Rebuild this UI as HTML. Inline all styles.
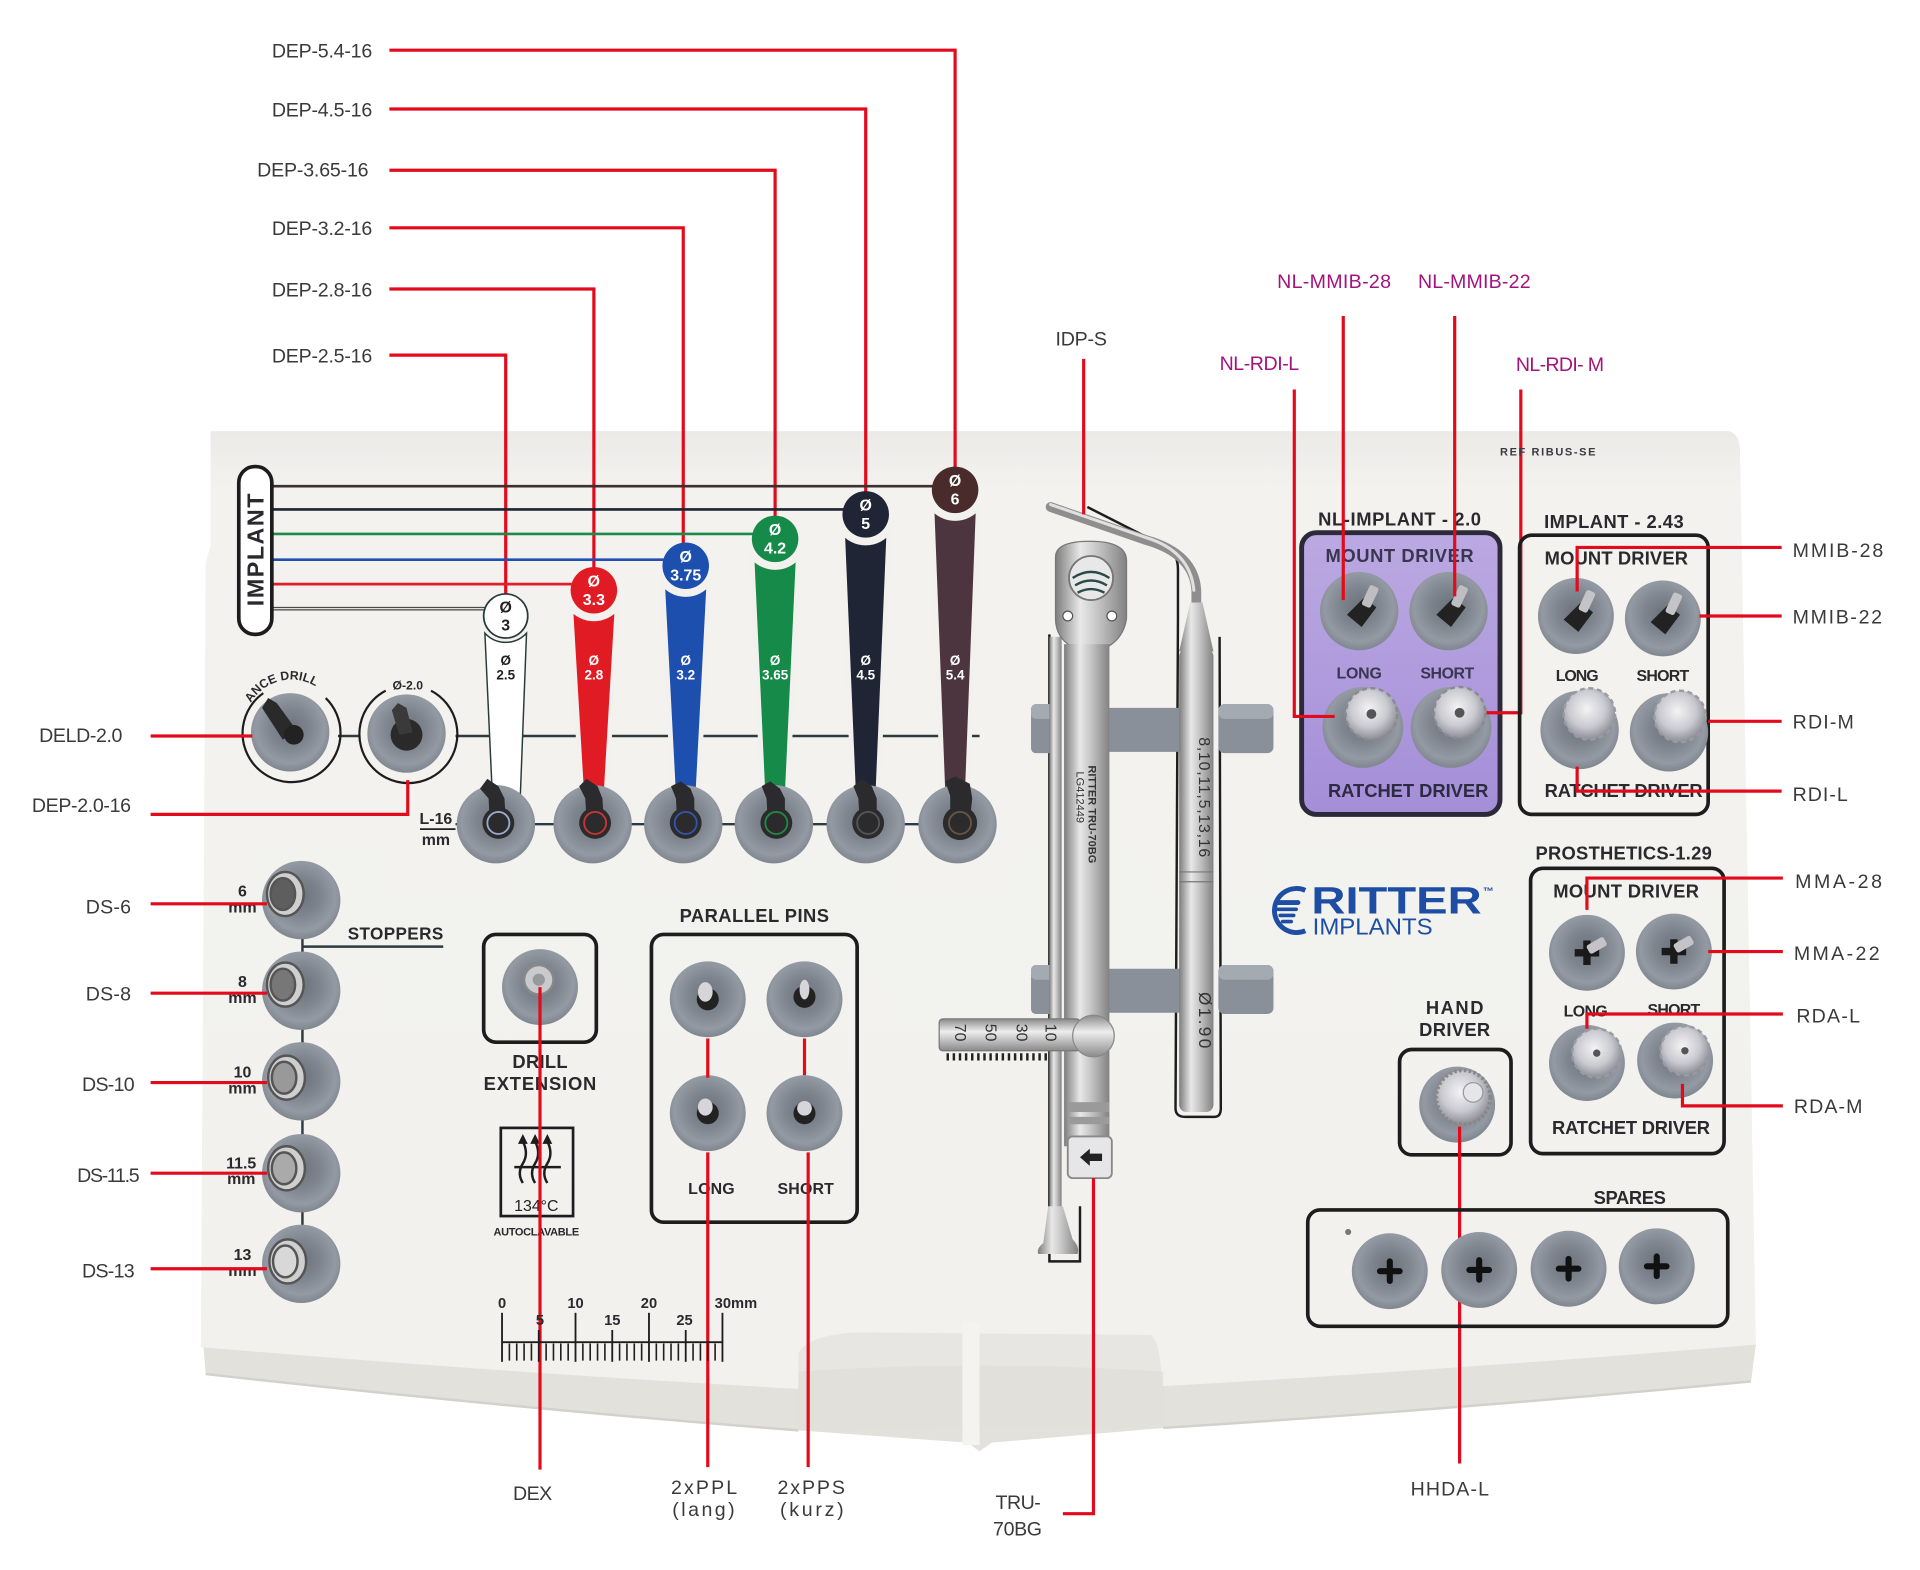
<!DOCTYPE html>
<html><head><meta charset="utf-8">
<style>
html,body{margin:0;padding:0;background:#fff;}
svg{display:block;}
.lb{font-family:"Liberation Sans",sans-serif;font-size:16px;fill:#3a3a3a;}
.mg{font-family:"Liberation Sans",sans-serif;font-size:16px;fill:#a3137e;}
.bt{font-family:"Liberation Sans",sans-serif;font-weight:bold;fill:#2a2a2e;}
.wt{font-family:"Liberation Sans",sans-serif;font-weight:bold;fill:#fff;text-anchor:middle;}
.r{stroke:#e30a1c;stroke-width:2.6;fill:none;}
</style></head>
<body>
<svg width="1920" height="1570" viewBox="0 0 1568 1282" preserveAspectRatio="none" xmlns="http://www.w3.org/2000/svg">
<defs>
<radialGradient id="hg" cx="50%" cy="45%" r="55%">
<stop offset="0" stop-color="#6c727b"/><stop offset="0.45" stop-color="#7f858e"/><stop offset="0.8" stop-color="#949aa3"/><stop offset="1" stop-color="#80868f"/>
</radialGradient>
<linearGradient id="met" x1="0" x2="1" y1="0" y2="0">
<stop offset="0" stop-color="#7d7d7d"/><stop offset="0.35" stop-color="#e8e8e8"/><stop offset="0.6" stop-color="#c4c4c4"/><stop offset="1" stop-color="#828282"/>
</linearGradient>
<linearGradient id="metv" x1="0" x2="0" y1="0" y2="1">
<stop offset="0" stop-color="#8a8a8a"/><stop offset="0.4" stop-color="#eeeeee"/><stop offset="1" stop-color="#8a8a8a"/>
</linearGradient>
<radialGradient id="knob" cx="45%" cy="40%" r="60%">
<stop offset="0" stop-color="#f4f4f6"/><stop offset="0.6" stop-color="#c9c9d0"/><stop offset="1" stop-color="#8d8d96"/>
</radialGradient>
<linearGradient id="purp" x1="0" x2="0" y1="0" y2="1">
<stop offset="0" stop-color="#bba9e2"/><stop offset="1" stop-color="#a48ed8"/>
</linearGradient>
<linearGradient id="tray" x1="0" x2="0" y1="0" y2="1">
<stop offset="0" stop-color="#ebeae7"/><stop offset="0.06" stop-color="#f3f2ef"/><stop offset="1" stop-color="#f2f1ee"/>
</linearGradient>
</defs>

<rect width="1568" height="1282" fill="#fff"/>

<!-- TRAY -->
<path d="M166,1098 L168,1122 Q420,1150 652,1168 L790,1178 L800,1185 L810,1178 L950,1166 Q1200,1150 1430,1128 L1434,1098 Z" fill="#e2e1dc"/>
<path d="M172,352 L1412,352 Q1420,354 1421,366 L1434,1098 Q1190,1118 950,1132 L650,1134 Q400,1120 164,1100 L168,460 L172,445 Z" fill="url(#tray)"/>
<path d="M652,1168 L652,1105 Q660,1090 700,1088 L940,1090 Q950,1096 950,1166 Z" fill="#e7e6e2"/>
<path d="M652,1168 L652,1120 Q800,1110 950,1120 L950,1166 Z" fill="#dedcd7" opacity="0.6"/>
<rect x="786" y="1080" width="14" height="100" fill="#f4f3f0"/>
<path d="M168,1122 Q420,1150 652,1168" stroke="#d2d1cb" stroke-width="2" fill="none"/>
<path d="M950,1166 Q1200,1150 1430,1128" stroke="#d2d1cb" stroke-width="2" fill="none"/>

<!-- LEFT TOP LABELS -->
<text class="lb" x="304" y="47" text-anchor="end" textLength="82">DEP-5.4-16</text>
<text class="lb" x="304" y="95" text-anchor="end" textLength="82">DEP-4.5-16</text>
<text class="lb" x="301" y="144" text-anchor="end" textLength="91">DEP-3.65-16</text>
<text class="lb" x="304" y="192" text-anchor="end" textLength="82">DEP-3.2-16</text>
<text class="lb" x="304" y="242" text-anchor="end" textLength="82">DEP-2.8-16</text>
<text class="lb" x="304" y="296" text-anchor="end" textLength="82">DEP-2.5-16</text>
<path class="r" d="M318,41 H780 V385"/>
<path class="r" d="M318,89 H707 V408"/>
<path class="r" d="M318,139 H633 V425"/>
<path class="r" d="M318,186 H558 V446"/>
<path class="r" d="M318,236 H485 V466"/>
<path class="r" d="M318,290 H413 V487"/>

<!-- IMPLANT pill and lines -->
<line x1="221" y1="397" x2="770" y2="397" stroke="#3b2f2f" stroke-width="2.2"/>
<line x1="221" y1="416" x2="697" y2="416" stroke="#1d2433" stroke-width="2.2"/>
<line x1="221" y1="436" x2="622" y2="436" stroke="#1e8a4a" stroke-width="2.2"/>
<line x1="221" y1="457" x2="548" y2="457" stroke="#1f50b2" stroke-width="2.2"/>
<line x1="221" y1="477" x2="474" y2="477" stroke="#e31d2b" stroke-width="2.2"/>
<line x1="221" y1="497" x2="402" y2="497" stroke="#4a4a4a" stroke-width="3"/>
<line x1="221" y1="497" x2="402" y2="497" stroke="#ddd" stroke-width="1"/>
<rect x="195" y="381" width="27" height="137" rx="13" fill="#fff" stroke="#1c1c1c" stroke-width="3"/>
<text class="bt" x="0" y="0" font-size="19" transform="translate(215,449) rotate(-90)" text-anchor="middle" textLength="92">IMPLANT</text>

<!-- mid horizontal line and L-16 line -->
<line x1="276" y1="601" x2="294" y2="601" stroke="#2d3a40" stroke-width="2"/>
<line x1="372" y1="601" x2="800" y2="601" stroke="#2d3a40" stroke-width="2"/>
<line x1="372" y1="673" x2="810" y2="673" stroke="#2d3a40" stroke-width="2"/>

<!-- bands -->
<g stroke="#f2f1ee" stroke-width="4">
<path d="M396,517 A23 23 0 0 0 430,517 L425,648 L402,648 Z" fill="#fff" stroke="#2a3a3a" stroke-width="1.2"/>
<path d="M466,496 A24 24 0 0 0 504,496 L495,648 L475,648 Z" fill="#e01b24"/>
<path d="M541,476 A24 24 0 0 0 579,476 L570,648 L550,648 Z" fill="#1d4faf"/>
<path d="M614,454 A24 24 0 0 0 652,454 L643,648 L623,648 Z" fill="#168a48"/>
<path d="M688,434 A24 24 0 0 0 726,434 L717,648 L697,648 Z" fill="#1f2535"/>
<path d="M761,414 A24 24 0 0 0 799,414 L790,648 L770,648 Z" fill="#4d3540"/>
</g>
<!-- circles -->
<circle cx="413" cy="503" r="18" fill="#fff" stroke="#2a3a3a" stroke-width="1.4"/>
<circle cx="485" cy="482" r="19" fill="#e01b24"/>
<circle cx="560" cy="462" r="19" fill="#1d4faf"/>
<circle cx="633" cy="440" r="19" fill="#168a48"/>
<circle cx="707" cy="420" r="19" fill="#1f2535"/>
<circle cx="780" cy="400" r="19" fill="#4a2b2b"/>
<g font-size="13">
<text class="wt" x="413" y="500" style="fill:#222">Ø</text><text class="wt" x="413" y="515" style="fill:#222">3</text>
<text class="wt" x="485" y="479">Ø</text><text class="wt" x="485" y="494">3.3</text>
<text class="wt" x="560" y="459">Ø</text><text class="wt" x="560" y="474">3.75</text>
<text class="wt" x="633" y="437">Ø</text><text class="wt" x="633" y="452">4.2</text>
<text class="wt" x="707" y="417">Ø</text><text class="wt" x="707" y="432">5</text>
<text class="wt" x="780" y="397">Ø</text><text class="wt" x="780" y="412">6</text>
</g>
<g font-size="11">
<text class="wt" x="413" y="543" style="fill:#222">Ø</text><text class="wt" x="413" y="555" style="fill:#222">2.5</text>
<text class="wt" x="485" y="543">Ø</text><text class="wt" x="485" y="555">2.8</text>
<text class="wt" x="560" y="543">Ø</text><text class="wt" x="560" y="555">3.2</text>
<text class="wt" x="633" y="543">Ø</text><text class="wt" x="633" y="555">3.65</text>
<text class="wt" x="707" y="543">Ø</text><text class="wt" x="707" y="555">4.5</text>
<text class="wt" x="780" y="543">Ø</text><text class="wt" x="780" y="555">5.4</text>
</g>

<!-- L-16 holders -->
<g>
<circle cx="405" cy="673" r="32" fill="url(#hg)"/>
<circle cx="484" cy="673" r="32" fill="url(#hg)"/>
<circle cx="558" cy="673" r="32" fill="url(#hg)"/>
<circle cx="632" cy="673" r="32" fill="url(#hg)"/>
<circle cx="707" cy="673" r="32" fill="url(#hg)"/>
<circle cx="782" cy="673" r="32" fill="url(#hg)"/>
</g>
<g fill="#2b2b2d">
<circle cx="407" cy="672" r="13"/><circle cx="486" cy="672" r="13"/><circle cx="560" cy="672" r="13"/><circle cx="634" cy="672" r="13"/><circle cx="709" cy="672" r="13"/><circle cx="784" cy="672" r="14"/>
<path d="M400,670 L399,652 L392,644 L398,636 L407,642 L412,652 L413,670 Z"/>
<path d="M479,670 L478,652 L473,642 L479,636 L488,642 L492,652 L493,670 Z"/>
<path d="M553,670 L552,652 L548,642 L556,638 L564,644 L567,652 L567,670 Z"/>
<path d="M627,670 L626,652 L622,642 L629,638 L637,644 L641,652 L641,670 Z"/>
<path d="M702,670 L701,652 L697,642 L704,636 L712,642 L716,652 L716,670 Z"/>
<path d="M776,670 L776,650 L772,638 L780,634 L792,640 L794,652 L792,670 Z"/>
</g>
<g fill="none" stroke-width="1.5">
<circle cx="407" cy="672" r="9" stroke="#9ac"/><circle cx="486" cy="672" r="9" stroke="#c33"/><circle cx="560" cy="672" r="9" stroke="#35a"/><circle cx="634" cy="672" r="9" stroke="#284"/><circle cx="709" cy="672" r="9" stroke="#555"/><circle cx="784" cy="672" r="9" stroke="#654"/>
</g>
<text class="bt" x="356" y="673" font-size="13" text-anchor="middle">L-16</text>
<line x1="343" y1="677" x2="372" y2="677" stroke="#222" stroke-width="1.4"/>
<text class="bt" x="356" y="690" font-size="13" text-anchor="middle">mm</text>

<!-- Left holders DELD & DEP-2.0 -->
<path d="M215,566 A40 40 0 1 0 266,570" fill="none" stroke="#1d1d1d" stroke-width="1.8"/>
<path id="arcA" d="M205,574 A38 38 0 0 1 272,576" fill="none"/>
<text class="bt" font-size="10"><textPath href="#arcA">ANCE DRILL</textPath></text>
<circle cx="237" cy="598" r="32" fill="url(#hg)"/>
<path d="M231,604 L214,578 L219,570 L226,574 L242,596 Z" fill="#2a2a2a"/>
<circle cx="240" cy="600" r="8" fill="#222"/>
<path d="M315,564 A40 40 0 1 0 352,564" fill="none" stroke="#1d1d1d" stroke-width="1.8"/>
<text class="bt" x="333" y="563" font-size="10" text-anchor="middle">Ø-2.0</text>
<circle cx="332" cy="599" r="32" fill="url(#hg)"/>
<circle cx="332" cy="600" r="13" fill="#2a2a2a"/>
<path d="M326,600 L320,580 L325,574 L332,578 L337,598 Z" fill="#3a3a3a"/>
<text class="lb" x="32" y="606" textLength="68">DELD-2.0</text>
<text class="lb" x="26" y="663" textLength="81">DEP-2.0-16</text>
<path class="r" d="M123,601 H206"/>
<path class="r" d="M123,665 H333 V637"/>

<!-- STOPPERS -->
<line x1="247" y1="760" x2="247" y2="1010" stroke="#2d3a40" stroke-width="2"/>
<line x1="247" y1="773" x2="362" y2="773" stroke="#2d3a40" stroke-width="2"/>
<text class="bt" x="284" y="767" font-size="14" textLength="78">STOPPERS</text>
<g>
<circle cx="246" cy="735" r="32" fill="url(#hg)"/>
<circle cx="246" cy="809" r="32" fill="url(#hg)"/>
<circle cx="246" cy="883" r="32" fill="url(#hg)"/>
<circle cx="246" cy="958" r="32" fill="url(#hg)"/>
<circle cx="246" cy="1032" r="32" fill="url(#hg)"/>
</g>
<g stroke="#555" stroke-width="2">
<ellipse cx="233" cy="730" rx="15" ry="18" fill="#cfcfcf"/><ellipse cx="231" cy="730" rx="10" ry="13" fill="#5e5e5e"/>
<ellipse cx="233" cy="804" rx="15" ry="18" fill="#cfcfcf"/><ellipse cx="231" cy="804" rx="10" ry="13" fill="#777"/>
<ellipse cx="234" cy="880" rx="15" ry="18" fill="#cfcfcf"/><ellipse cx="232" cy="880" rx="10" ry="13" fill="#999"/>
<ellipse cx="234" cy="954" rx="15" ry="18" fill="#cfcfcf"/><ellipse cx="232" cy="954" rx="10" ry="13" fill="#aaa"/>
<ellipse cx="235" cy="1030" rx="15" ry="18" fill="#cfcfcf"/><ellipse cx="233" cy="1030" rx="10" ry="13" fill="#d8d8d8"/>
</g>
<g font-size="13" text-anchor="middle">
<text class="bt" x="198" y="732">6</text><text class="bt" x="198" y="745">mm</text>
<text class="bt" x="198" y="806">8</text><text class="bt" x="198" y="819">mm</text>
<text class="bt" x="198" y="880">10</text><text class="bt" x="198" y="893">mm</text>
<text class="bt" x="197" y="954">11.5</text><text class="bt" x="197" y="967">mm</text>
<text class="bt" x="198" y="1029">13</text><text class="bt" x="198" y="1042">mm</text>
</g>
<text class="lb" x="70" y="746" textLength="37">DS-6</text>
<text class="lb" x="70" y="817" textLength="37">DS-8</text>
<text class="lb" x="67" y="891" textLength="43">DS-10</text>
<text class="lb" x="63" y="965" textLength="51">DS-11.5</text>
<text class="lb" x="67" y="1043" textLength="43">DS-13</text>
<path class="r" d="M123,738 H218"/>
<path class="r" d="M123,811 H218"/>
<path class="r" d="M123,884 H218"/>
<path class="r" d="M123,958 H218"/>
<path class="r" d="M123,1036 H218"/>

<!-- DRILL EXTENSION -->
<rect x="395" y="763" width="92" height="88" rx="10" fill="none" stroke="#1d1d1d" stroke-width="3"/>
<circle cx="441" cy="806" r="31" fill="url(#hg)"/>
<circle cx="440" cy="800" r="12" fill="#c8cad0" stroke="#888" stroke-width="2"/>
<circle cx="440" cy="800" r="5" fill="#999"/>
<text class="bt" x="441" y="872" font-size="15" text-anchor="middle" textLength="45">DRILL</text>
<text class="bt" x="441" y="890" font-size="15" text-anchor="middle" textLength="92">EXTENSION</text>
<!-- autoclave -->
<rect x="409" y="921" width="59" height="72" fill="none" stroke="#1d1d1d" stroke-width="2.2"/>
<g stroke="#1d1d1d" stroke-width="2" fill="none">
<path d="M427,966 q-5,-8 0,-16 q5,-8 0,-18"/><path d="M437,966 q-5,-8 0,-16 q5,-8 0,-18"/><path d="M447,966 q-5,-8 0,-16 q5,-8 0,-18"/>
<line x1="420" y1="953" x2="458" y2="953"/>
</g>
<g fill="#1d1d1d"><path d="M427,926 l-4,8 h8 z"/><path d="M437,926 l-4,8 h8 z"/><path d="M447,926 l-4,8 h8 z"/></g>
<text x="438" y="989" font-family="Liberation Sans,sans-serif" font-size="13" fill="#222" text-anchor="middle">134°C</text>
<text class="bt" x="438" y="1009" font-size="9" text-anchor="middle" textLength="70">AUTOCLAVABLE</text>
<path class="r" d="M441,806 V1200"/>
<text class="lb" x="419" y="1225" textLength="33" letter-spacing="1">DEX</text>

<!-- PARALLEL PINS -->
<text class="bt" x="616" y="753" font-size="15" text-anchor="middle" textLength="122">PARALLEL PINS</text>
<rect x="532" y="763" width="168" height="235" rx="10" fill="none" stroke="#1d1d1d" stroke-width="3"/>
<circle cx="578" cy="816" r="31" fill="url(#hg)"/>
<circle cx="657" cy="816" r="31" fill="url(#hg)"/>
<circle cx="578" cy="909" r="31" fill="url(#hg)"/>
<circle cx="657" cy="909" r="31" fill="url(#hg)"/>
<g fill="#222"><circle cx="578" cy="816" r="9"/><circle cx="657" cy="814" r="9"/><circle cx="578" cy="909" r="9"/><circle cx="657" cy="909" r="9"/></g>
<g fill="#d6d6da"><ellipse cx="576" cy="810" rx="6" ry="8"/><ellipse cx="657" cy="808" rx="4" ry="8"/><ellipse cx="576" cy="904" rx="6" ry="7"/><ellipse cx="657" cy="905" rx="6" ry="6"/></g>
<text class="bt" x="581" y="975" font-size="13" text-anchor="middle" textLength="38">LONG</text>
<text class="bt" x="658" y="975" font-size="13" text-anchor="middle" textLength="46">SHORT</text>
<path class="r" d="M578,848 V880"/>
<path class="r" d="M657,848 V878"/>
<path class="r" d="M578,941 V1198"/>
<path class="r" d="M660,941 V1198"/>
<text class="lb" x="548" y="1220" textLength="54">2xPPL</text>
<text class="lb" x="549" y="1238" textLength="51">(lang)</text>
<text class="lb" x="635" y="1220" textLength="55">2xPPS</text>
<text class="lb" x="637" y="1238" textLength="52">(kurz)</text>

<!-- RULER -->
<g class="bt" font-size="12" text-anchor="middle">
<text x="410" y="1068">0</text><text x="470" y="1068">10</text><text x="530" y="1068">20</text><text x="601" y="1068">30mm</text>
<text x="441" y="1082">5</text><text x="500" y="1082">15</text><text x="559" y="1082">25</text>
</g>
<g stroke="#1d1d1d" stroke-width="1.5">
<line x1="410" y1="1072" x2="410" y2="1112"/><line x1="470" y1="1072" x2="470" y2="1112"/><line x1="530" y1="1072" x2="530" y2="1112"/><line x1="590" y1="1072" x2="590" y2="1112"/>
<line x1="440" y1="1086" x2="440" y2="1112"/><line x1="500" y1="1086" x2="500" y2="1112"/><line x1="560" y1="1086" x2="560" y2="1112"/>
<line x1="410" y1="1096" x2="590" y2="1096"/>
</g>
<path d="M416,1097v14M422,1097v14M428,1097v14M434,1097v14M446,1097v14M452,1097v14M458,1097v14M464,1097v14M476,1097v14M482,1097v14M488,1097v14M494,1097v14M506,1097v14M512,1097v14M518,1097v14M524,1097v14M536,1097v14M542,1097v14M548,1097v14M554,1097v14M566,1097v14M572,1097v14M578,1097v14M584,1097v14" stroke="#1d1d1d" stroke-width="1.3"/>

<!-- CENTER INSTRUMENTS -->
<g fill="none" stroke="#1d1d1d" stroke-width="2">
<path d="M888,414 L953,447 Q962,452 962,465 L962,505"/>
<path d="M962,505 L960,905 Q960,912 968,912 L992,912 Q997,912 997,905 L996,520"/>
<path d="M857,518 L857,1030 L882,1030 L882,985"/>
</g>
<g fill="#8a9099">
<rect x="842" y="575" width="22" height="40" rx="4"/>
<rect x="900" y="578" width="66" height="36" rx="3"/>
<rect x="995" y="575" width="45" height="40" rx="5"/>
<rect x="842" y="788" width="22" height="40" rx="4"/>
<rect x="900" y="791" width="66" height="36" rx="3"/>
<rect x="995" y="788" width="45" height="40" rx="5"/>
</g>
<g fill="#a4aab2"><rect x="842" y="575" width="22" height="12" rx="4"/><rect x="995" y="575" width="45" height="12" rx="5"/><rect x="842" y="788" width="22" height="12" rx="4"/><rect x="995" y="788" width="45" height="12" rx="5"/></g>
<path d="M858,414 L936,441 Q975,452 977,482 L977,495" fill="none" stroke="#8e8e8e" stroke-width="8" stroke-linecap="round"/>
<path d="M858,412 L936,439 Q972,450 975,482" fill="none" stroke="#e0e0e0" stroke-width="2.5" stroke-linecap="round"/>
<path d="M972,492 L982,492 L991,532 L963,532 Z" fill="url(#met)"/>
<rect x="963" y="530" width="28" height="378" rx="6" fill="url(#met)"/>
<line x1="963" y1="712" x2="991" y2="712" stroke="#777" stroke-width="1"/>
<line x1="963" y1="720" x2="991" y2="720" stroke="#777" stroke-width="1"/>
<text transform="translate(979,602) rotate(90)" font-family="Liberation Sans,sans-serif" font-size="13" fill="#333" textLength="98">8,10,11,5,13,16</text>
<text transform="translate(979,810) rotate(90)" font-family="Liberation Sans,sans-serif" font-size="14" fill="#333" textLength="46">Ø1.90</text>
<rect x="857" y="520" width="10" height="470" fill="url(#met)"/>
<path d="M852,1015 Q846,1020 848,1024 L880,1024 Q882,1018 876,1012 L868,985 L856,985 Z" fill="url(#met)"/>
<path d="M862,455 Q862,442 890,442 Q920,442 920,458 L920,505 Q918,520 905,528 L875,528 Q862,520 862,505 Z" fill="url(#met)" stroke="#777" stroke-width="1"/>
<circle cx="891" cy="472" r="18" fill="#e8e8e8" stroke="#777" stroke-width="1.5"/>
<path d="M876,472 Q891,462 906,472 M878,478 Q891,470 904,478 M880,484 Q891,478 902,484" stroke="#2a4a4a" stroke-width="2" fill="none"/>
<circle cx="872" cy="503" r="4" fill="#fff" stroke="#555"/>
<circle cx="908" cy="503" r="4" fill="#fff" stroke="#555"/>
<rect x="869" y="526" width="37" height="410" fill="url(#met)"/>
<text transform="translate(889,625) rotate(90)" font-family="Liberation Sans,sans-serif" font-size="9" font-weight="bold" fill="#333">RITTER  TRU-70BG</text>
<text transform="translate(879,630) rotate(90)" font-family="Liberation Sans,sans-serif" font-size="9" fill="#333">LG412449</text>
<rect x="767" y="832" width="115" height="26" rx="3" fill="url(#metv)" stroke="#777" stroke-width="1"/>
<g font-family="Liberation Sans,sans-serif" font-size="13" fill="#333">
<text transform="translate(780,836) rotate(90)">70</text><text transform="translate(805,836) rotate(90)">50</text><text transform="translate(830,836) rotate(90)">30</text><text transform="translate(854,836) rotate(90)">10</text>
</g>
<path d="M774,860v6M779,860v6M784,860v6M789,860v6M794,860v6M799,860v6M804,860v6M809,860v6M814,860v6M819,860v6M824,860v6M829,860v6M834,860v6M839,860v6M844,860v6M849,860v6M854,860v6" stroke="#222" stroke-width="2"/>
<circle cx="893" cy="846" r="17" fill="url(#metv)" stroke="#888" stroke-width="1"/>
<rect x="872" y="900" width="34" height="8" fill="#9a9a9a"/>
<rect x="872" y="912" width="34" height="6" fill="#9a9a9a"/>
<rect x="872" y="928" width="36" height="34" rx="4" fill="#e6e6e8" stroke="#888" stroke-width="1.5"/>
<path d="M882,945 L890,938 L890,942 L900,942 L900,948 L890,948 L890,952 Z" fill="#222"/>
<text class="lb" x="862" y="282" textLength="42">IDP-S</text>
<path class="r" d="M885,293 V420"/>
<text class="lb" x="813" y="1232" textLength="37">TRU-</text>
<text class="lb" x="811" y="1254" textLength="40">70BG</text>
<path class="r" d="M893,962 V1236 H868"/>

<!-- NL-IMPLANT 2.0 panel -->
<text class="bt" x="1143" y="429" font-size="15" text-anchor="middle" textLength="133">NL-IMPLANT - 2.0</text>
<rect x="1063" y="435" width="162" height="230" rx="12" fill="url(#purp)" stroke="#2c2a38" stroke-width="4"/>
<text class="bt" x="1143" y="459" font-size="15" text-anchor="middle" textLength="121" style="fill:#3a3550">MOUNT DRIVER</text>
<circle cx="1110" cy="499" r="32" fill="url(#hg)"/>
<circle cx="1183" cy="499" r="32" fill="url(#hg)"/>
<path d="M1100,502 L1114,488 L1124,496 L1112,512 Z M1173,502 L1187,488 L1197,496 L1185,512 Z" fill="#222"/>
<rect x="1115" y="478" width="8" height="18" rx="2" fill="#bdbdc2" transform="rotate(25 1119 487)"/>
<rect x="1188" y="478" width="8" height="18" rx="2" fill="#bdbdc2" transform="rotate(25 1192 487)"/>
<text class="bt" x="1110" y="554" font-size="13" text-anchor="middle" textLength="37" style="fill:#3a3550">LONG</text>
<text class="bt" x="1182" y="554" font-size="13" text-anchor="middle" textLength="44" style="fill:#3a3550">SHORT</text>
<circle cx="1113" cy="594" r="33" fill="url(#hg)"/>
<circle cx="1185" cy="594" r="33" fill="url(#hg)"/>
<circle cx="1120" cy="583" r="21" fill="url(#knob)" stroke="#8a8a92" stroke-width="2" stroke-dasharray="4 3"/>
<circle cx="1192" cy="582" r="21" fill="url(#knob)" stroke="#8a8a92" stroke-width="2" stroke-dasharray="4 3"/>
<circle cx="1120" cy="583" r="4" fill="#555"/><circle cx="1192" cy="582" r="4" fill="#555"/>
<text class="bt" x="1150" y="651" font-size="15" text-anchor="middle" textLength="131" style="fill:#2e2a40">RATCHET DRIVER</text>
<text class="mg" x="1043" y="235" textLength="93">NL-MMIB-28</text>
<text class="mg" x="1158" y="235" textLength="92">NL-MMIB-22</text>
<text class="mg" x="996" y="302" textLength="65">NL-RDI-L</text>
<text class="mg" x="1238" y="303" textLength="72">NL-RDI- M</text>
<path class="r" d="M1097,258 V490"/>
<path class="r" d="M1188,258 V487"/>
<path class="r" d="M1057,318 V585 H1090"/>
<path class="r" d="M1242,318 V582 H1214"/>

<text class="bt" x="1225" y="372" font-size="9" textLength="78" style="fill:#3a3a44">REF  RIBUS-SE</text>

<!-- IMPLANT 2.43 panel -->
<text class="bt" x="1318" y="431" font-size="15" text-anchor="middle" textLength="114">IMPLANT - 2.43</text>
<rect x="1241" y="437" width="154" height="228" rx="10" fill="none" stroke="#1d1d1d" stroke-width="3"/>
<text class="bt" x="1320" y="461" font-size="15" text-anchor="middle" textLength="117">MOUNT DRIVER</text>
<circle cx="1287" cy="503" r="31" fill="url(#hg)"/>
<circle cx="1358" cy="505" r="31" fill="url(#hg)"/>
<path d="M1277,506 L1291,492 L1301,500 L1289,516 Z M1348,508 L1362,494 L1372,502 L1360,518 Z" fill="#222"/>
<rect x="1292" y="482" width="8" height="18" rx="2" fill="#c3c3c8" transform="rotate(25 1296 491)"/>
<rect x="1363" y="484" width="8" height="18" rx="2" fill="#c3c3c8" transform="rotate(25 1367 493)"/>
<text class="bt" x="1288" y="556" font-size="13" text-anchor="middle" textLength="35">LONG</text>
<text class="bt" x="1358" y="556" font-size="13" text-anchor="middle" textLength="43">SHORT</text>
<circle cx="1290" cy="596" r="32" fill="url(#hg)"/>
<circle cx="1363" cy="598" r="32" fill="url(#hg)"/>
<circle cx="1298" cy="583" r="21" fill="url(#knob)" stroke="#9a9aa2" stroke-width="2" stroke-dasharray="4 3"/>
<circle cx="1372" cy="585" r="21" fill="url(#knob)" stroke="#9a9aa2" stroke-width="2" stroke-dasharray="4 3"/>
<text class="bt" x="1326" y="651" font-size="15" text-anchor="middle" textLength="129">RATCHET DRIVER</text>
<text class="lb" x="1464" y="455" textLength="74">MMIB-28</text>
<text class="lb" x="1464" y="509" textLength="73">MMIB-22</text>
<text class="lb" x="1464" y="595" textLength="50">RDI-M</text>
<text class="lb" x="1464" y="654" textLength="45">RDI-L</text>
<path class="r" d="M1288,483 V447 H1455"/>
<path class="r" d="M1388,503 H1455"/>
<path class="r" d="M1395,589 H1455"/>
<path class="r" d="M1288,626 V646 H1455"/>

<!-- RITTER logo -->
<path d="M1066,727 A18 18 0 1 0 1066,760" fill="none" stroke="#1d4ea3" stroke-width="4"/>
<g fill="#1d4ea3"><rect x="1040" y="735" width="22" height="4" rx="2"/><rect x="1042" y="741" width="18" height="3" rx="1.5"/><rect x="1044" y="746" width="14" height="3" rx="1.5"/><rect x="1046" y="751" width="10" height="3" rx="1.5"/></g>
<text x="1071" y="746" font-family="Liberation Sans,sans-serif" font-weight="bold" font-size="31" fill="#1d4ea3" textLength="139" lengthAdjust="spacingAndGlyphs">RITTER</text>
<text x="1211" y="731" font-family="Liberation Sans,sans-serif" font-weight="bold" font-size="9" fill="#1d4ea3">™</text>
<text x="1072" y="763" font-family="Liberation Sans,sans-serif" font-size="19" fill="#1d4ea3" textLength="98" lengthAdjust="spacingAndGlyphs">IMPLANTS</text>

<!-- PROSTHETICS panel -->
<text class="bt" x="1326" y="702" font-size="15" text-anchor="middle" textLength="144">PROSTHETICS-1.29</text>
<rect x="1250" y="709" width="158" height="233" rx="10" fill="none" stroke="#1d1d1d" stroke-width="3"/>
<text class="bt" x="1328" y="733" font-size="15" text-anchor="middle" textLength="119">MOUNT DRIVER</text>
<circle cx="1296" cy="778" r="31" fill="url(#hg)"/>
<circle cx="1367" cy="777" r="31" fill="url(#hg)"/>
<path d="M1286,778 h20 M1296,768 v20" stroke="#1a1a1a" stroke-width="6"/>
<path d="M1357,777 h20 M1367,767 v20" stroke="#1a1a1a" stroke-width="6"/>
<rect x="1300" y="764" width="8" height="16" rx="2" fill="#c3c3c8" transform="rotate(60 1304 772)"/>
<rect x="1371" y="763" width="8" height="16" rx="2" fill="#c3c3c8" transform="rotate(60 1375 771)"/>
<text class="bt" x="1295" y="830" font-size="13" text-anchor="middle" textLength="36">LONG</text>
<text class="bt" x="1367" y="829" font-size="13" text-anchor="middle" textLength="43">SHORT</text>
<circle cx="1296" cy="868" r="31" fill="url(#hg)"/>
<circle cx="1368" cy="866" r="31" fill="url(#hg)"/>
<circle cx="1304" cy="860" r="20" fill="url(#knob)" stroke="#9a9aa2" stroke-width="2" stroke-dasharray="4 3"/>
<circle cx="1376" cy="858" r="20" fill="url(#knob)" stroke="#9a9aa2" stroke-width="2" stroke-dasharray="4 3"/>
<circle cx="1304" cy="860" r="3" fill="#555"/><circle cx="1376" cy="858" r="3" fill="#555"/>
<text class="bt" x="1332" y="926" font-size="15" text-anchor="middle" textLength="129">RATCHET DRIVER</text>
<text class="lb" x="1466" y="725" textLength="71">MMA-28</text>
<text class="lb" x="1465" y="784" textLength="70">MMA-22</text>
<text class="lb" x="1467" y="835" textLength="52">RDA-L</text>
<text class="lb" x="1465" y="909" textLength="56">RDA-M</text>
<path class="r" d="M1296,743 V717 H1456"/>
<path class="r" d="M1395,777 H1456"/>
<path class="r" d="M1296,840 V828 H1456"/>
<path class="r" d="M1374,885 V903 H1456"/>

<!-- HAND DRIVER -->
<text class="bt" x="1188" y="828" font-size="15" text-anchor="middle" textLength="47">HAND</text>
<text class="bt" x="1188" y="846" font-size="15" text-anchor="middle" textLength="58">DRIVER</text>
<rect x="1143" y="857" width="91" height="86" rx="10" fill="none" stroke="#1d1d1d" stroke-width="3"/>
<circle cx="1190" cy="902" r="31" fill="url(#hg)"/>
<circle cx="1195" cy="896" r="22" fill="url(#knob)" stroke="#888" stroke-width="3" stroke-dasharray="2 2"/>
<circle cx="1203" cy="892" r="8" fill="#e6e6ea" stroke="#999"/>
<path class="r" d="M1192,920 V1195"/>
<text class="lb" x="1152" y="1221" textLength="64">HHDA-L</text>

<!-- SPARES -->
<text class="bt" x="1331" y="983" font-size="15" text-anchor="middle" textLength="59">SPARES</text>
<rect x="1068" y="988" width="343" height="95" rx="10" fill="none" stroke="#1d1d1d" stroke-width="3"/>
<circle cx="1101" cy="1006" r="2.5" fill="#777"/>
<circle cx="1135" cy="1038" r="31" fill="url(#hg)"/>
<circle cx="1208" cy="1037" r="31" fill="url(#hg)"/>
<circle cx="1281" cy="1036" r="31" fill="url(#hg)"/>
<circle cx="1353" cy="1034" r="31" fill="url(#hg)"/>
<g stroke="#111" stroke-width="5" stroke-linecap="round">
<path d="M1127,1038 h16 M1135,1030 v16"/><path d="M1200,1037 h16 M1208,1029 v16"/><path d="M1273,1036 h16 M1281,1028 v16"/><path d="M1345,1034 h16 M1353,1026 v16"/>
</g>
</svg>
</body></html>
